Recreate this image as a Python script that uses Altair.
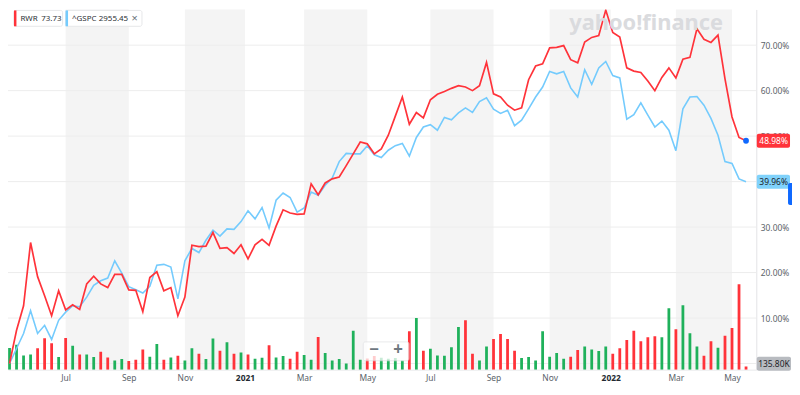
import altair as alt
import pandas as pd

# ---------------- data ----------------
START_DATE = "2020-05-11"   # first weekly point
N_WEEKS = 106

rwr_pct = [0, 7.3, 12.7, 26.6, 19.1, 14.9, 10.5, 16.0, 11.8, 12.9,
           11.9, 17.5, 19.2, 17.5, 16.7, 19.6, 19.6, 16.2, 16.1, 11.4,
           18.9, 20.2, 16.0, 16.7, 10.5, 14.6, 26.0, 25.7, 25.8, 28.8,
           25.3, 25.5, 24.2, 26.1, 23.0, 26.1, 27.3, 26.0, 30.2, 33.8,
           33.1, 32.8, 32.9, 39.5, 37.1, 39.7, 40.6, 41.0, 43.5, 46.1,
           48.7, 48.3, 46.1, 47.2, 50.2, 54.4, 58.6, 52.6, 55.2, 54.0,
           58.0, 59.2, 59.8, 60.5, 61.1, 60.8, 60.0, 61.1, 66.2, 59.3,
           58.6, 56.8, 55.7, 56.2, 62.4, 65.4, 65.9, 69.4, 69.5, 69.9,
           66.8, 66.1, 70.7, 71.7, 72.1, 77.7, 72.8, 71.8, 65.0, 64.3,
           64.0, 62.1, 60.0, 62.9, 65.0, 62.8, 66.9, 67.3, 73.6, 71.3,
           70.6, 72.2, 62.6, 54.2, 49.7, 48.98]

gspc_pct = [0, 3.3, 6.6, 11.6, 6.6, 8.4, 5.3, 9.5, 11.3, 12.7,
            12.5, 14.6, 17.2, 18.2, 18.8, 22.6, 19.9, 16.9, 16.2, 15.5,
            17.0, 21.6, 21.8, 21.2, 14.2, 22.6, 25.3, 24.4, 27.1, 29.3,
            28.0, 29.6, 29.5, 31.2, 33.6, 31.8, 34.3, 29.8, 35.9, 37.5,
            36.5, 33.3, 34.2, 37.7, 37.0, 39.2, 40.8, 44.4, 46.2, 46.1,
            46.1, 47.9, 45.9, 45.3, 46.9, 47.9, 48.4, 45.6, 49.7, 52.0,
            52.5, 51.3, 54.1, 53.6, 55.1, 56.2, 55.2, 57.6, 58.4, 55.9,
            55.0, 55.7, 52.3, 53.5, 56.0, 58.6, 60.8, 64.2, 63.7, 64.2,
            60.6, 58.6, 64.6, 61.4, 65.0, 66.4, 63.3, 62.8, 53.7, 54.7,
            57.3, 54.6, 52.0, 53.3, 51.3, 46.8, 56.0, 58.6, 58.7, 56.8,
            53.9, 50.2, 44.4, 44.0, 40.6, 39.96]

volume_k = [900, 1029, 588, 630, 893, 1304, 1099, 523, 1317, 988,
            630, 630, 523, 741, 506, 383, 440, 358, 412, 835,
            535, 1070, 412, 506, 576, 383, 893, 658, 440, 1288,
            782, 1140, 658, 712, 630, 453, 494, 1016, 506, 564,
            453, 741, 605, 412, 1358, 687, 383, 440, 259, 1617,
            412, 465, 564, 494, 453, 481, 383, 1593, 2140, 782,
            864, 588, 576, 934, 1769, 2045, 658, 383, 959, 1276,
            1481, 1276, 782, 481, 523, 383, 1593, 535, 687, 453,
            535, 811, 959, 835, 770, 959, 658, 893, 1235, 1617,
            1181, 1346, 1387, 1346, 2551, 1675, 2675, 1510, 959, 576,
            1181, 905, 1411, 1728, 3539, 135.8]

volume_dir = list("uuuudddudu" "duudduuddd" "uududuuduu" "dududuuduu"
                  "dduuduuuuu" "udduuuudud" "uuuuudduud" "ddduuuuuuu"
                  "dduuuudddd" "ddduuduuud" "dudddd")

tick_dates = ["2020-07-06", "2020-09-07", "2020-11-02", "2021-01-01",
              "2021-03-01", "2021-05-03", "2021-07-05", "2021-09-06",
              "2021-11-01", "2022-01-01", "2022-03-07", "2022-05-02"]
band_starts = ["2020-07-06", "2020-11-02", "2021-03-01", "2021-07-05", "2021-11-01", "2022-03-07"]
band_ends = ["2020-09-07", "2021-01-01", "2021-05-03", "2021-09-06", "2022-01-01", "2022-05-02"]
grid_values = [0, 10, 20, 30, 40, 50, 60, 70]
axis_values = [10, 20, 30, 40, 50, 60, 70]

legend_names = ["RWR", "^GSPC"]
legend_prices = ["73.73", "2955.45"]

# ---------------- styling / layout ----------------
RED = "#ff333a"
GREEN = "#1fb15b"
BLUE = "#74cbfd"
TAG_BLUE = "#80d2fb"
DOT_BLUE = "#0f69ff"
TXT = "#5b636a"
FONT = "Noto Sans"

W, H = 754, 363
PX_PER_DAY = 7.163 / 7.0
d0 = pd.Timestamp(START_DATE)


def ms(ts):
    return int(pd.Timestamp(ts).value // 10**6)


x_dom = [ms(d0 + pd.Timedelta(days=3.5 / PX_PER_DAY)),
         ms(d0 + pd.Timedelta(days=(W + 3.5) / PX_PER_DAY))]
x_scale = alt.Scale(type="utc", domain=x_dom, nice=False)
x_axis = alt.Axis(
    values=[ms(t) for t in tick_dates],
    labelExpr="utcmonth(datum.value) == 0 ? utcFormat(datum.value, '%Y') : utcFormat(datum.value, '%b')",
    labelFontWeight={"condition": {"test": "utcmonth(datum.value) == 0", "value": "bold"}, "value": "normal"},
    labelColor={"condition": {"test": "utcmonth(datum.value) == 0", "value": "#232a31"}, "value": TXT},
    labelFont=FONT, labelFontSize=8.5, labelPadding=4, ticks=False, grid=False,
    domain=True, domainColor="#e8e9eb", labelOverlap=False, title=None)

pct_scale = alt.Scale(domain=[-1.353, 77.85], nice=False, zero=False)
y_axis = alt.Axis(orient="right", values=axis_values,
                  labelExpr="format(datum.value, '.2f') + '%'",
                  labelFont=FONT, labelFontSize=8.5, labelColor=TXT, labelPadding=4,
                  ticks=False, grid=False, domain=True, domainColor="#e3e4e6", title=None)

vol_scale = alt.Scale(domain=[0, 14937], nice=False, zero=True)

dates = pd.date_range(START_DATE, periods=N_WEEKS, freq="7D").strftime("%Y-%m-%d")
df = pd.DataFrame({"date": dates, "rwr": rwr_pct, "gspc": gspc_pct,
                   "vol": volume_k, "dir": volume_dir})
bands = pd.DataFrame({"start": band_starts, "end": band_ends})
grid = pd.DataFrame({"g": grid_values})
one = pd.DataFrame({"k": [0]})

X = alt.X("date:T", scale=x_scale, axis=x_axis, title=None)

band_layer = alt.Chart(bands).mark_rect(color="#f4f4f4").encode(
    x=alt.X("start:T", scale=x_scale, axis=x_axis, title=None), x2="end:T",
    y=alt.value(0), y2=alt.value(H))
grid_layer = alt.Chart(grid).mark_rule(color="#ededed", strokeWidth=1).encode(
    y=alt.Y("g:Q", scale=pct_scale, axis=None))
back = alt.layer(band_layer, grid_layer)

vol_layer = alt.Chart(df).mark_bar(size=2.8, clip=True).encode(
    x=X,
    y=alt.Y("vol:Q", scale=vol_scale, axis=None),
    color=alt.Color("dir:N", scale=alt.Scale(domain=["u", "d"], range=[GREEN, RED]), legend=None))

line_blue = alt.Chart(df).mark_line(color=BLUE, strokeWidth=1.6, clip=True).encode(
    x=X, y=alt.Y("gspc:Q", scale=pct_scale, axis=y_axis))
line_red = alt.Chart(df).mark_line(color=RED, strokeWidth=1.7, clip=True).encode(
    x=X, y=alt.Y("rwr:Q", scale=pct_scale, axis=y_axis))
dot = alt.Chart(df.tail(1)).mark_circle(color=DOT_BLUE, opacity=1, size=34).encode(
    x=X, y=alt.Y("rwr:Q", scale=pct_scale, axis=y_axis))

tags = pd.DataFrame({
    "v": [rwr_pct[-1], gspc_pct[-1]],
    "label": [f"{rwr_pct[-1]:.2f}%", f"{gspc_pct[-1]:.2f}%"],
    "fill": [RED, TAG_BLUE],
    "tc": ["#ffffff", "#1d2228"],
})
tag_rect = alt.Chart(tags).transform_calculate(
    hi="datum.v + 1.55", lo="datum.v - 1.55"
).mark_rect(cornerRadius=2).encode(
    x=alt.value(W + 0.5), x2=alt.value(W + 34),
    y=alt.Y("hi:Q", scale=pct_scale, axis=y_axis), y2="lo:Q",
    fill=alt.Fill("fill:N", scale=None))
tag_text = alt.Chart(tags).mark_text(font=FONT, fontSize=8.5, align="center", baseline="middle").encode(
    x=alt.value(W + 17.5), y=alt.Y("v:Q", scale=pct_scale, axis=y_axis),
    text="label:N", color=alt.Color("tc:N", scale=None))

front = alt.layer(line_blue, line_red, dot, tag_rect, tag_text)


def box(x1, x2, y1, y2, fill, stroke=None, opacity=1.0, radius=0):
    kw = dict(fill=fill, opacity=opacity, cornerRadius=radius)
    if stroke:
        kw.update(stroke=stroke, strokeWidth=1)
    return alt.Chart(one).mark_rect(**kw).encode(
        x=alt.value(x1), x2=alt.value(x2), y=alt.value(y1), y2=alt.value(y2))


def label(txt, x, y, size=8, color="#2c3036", align="left", weight="normal"):
    return alt.Chart(one).mark_text(text=txt, font=FONT, fontSize=size, color=color,
                                    align=align, baseline="middle", fontWeight=weight).encode(
        x=alt.value(x), y=alt.value(y))


deco = [
    # watermark
    label("yahoo!finance", 643, 14, size=22, color="#dadbde", align="center", weight="bold"),
    # legend chips
    box(6, 55, 1, 17, "#ffffff", stroke="#e6e7e9", radius=2),
    box(6, 8.5, 1, 17, RED),
    label(legend_names[0], 12.5, 9.5),
    label(legend_prices[0], 33.5, 9.5),
    box(58, 135, 1, 17, "#ffffff", stroke="#e6e7e9", radius=2),
    box(58, 60.5, 1, 17, BLUE),
    label(legend_names[1], 64.5, 9.5),
    label(legend_prices[1], 91.5, 9.5),
    label("×", 127.5, 9.5, size=11, color="#6e7780", align="center"),
    # volume tag
    box(W + 0.5, W + 35, 350, 364, "#b8bbc0", radius=2),
    label(f"{volume_k[-1]:.2f}K", W + 17.8, 357, size=8.5, color="#1d2228", align="center"),
    # zoom control
    box(358, 404, 335, 354, "#ffffff", stroke="#e3e4e6", opacity=0.75, radius=2),
    label("−", 369, 343.5, size=17, color="#6e7780", align="center", weight="bold"),
    label("+", 393, 343.5, size=17, color="#6e7780", align="center", weight="bold"),
    # right edge tab
    box(786, 792, 175, 197, DOT_BLUE, radius=2),
]

chart = alt.layer(back, vol_layer, front, *deco).resolve_scale(
    y="independent"
).properties(
    width=W, height=H,
    padding={"left": 0, "top": 0, "right": 36, "bottom": 16},
    autosize=alt.AutoSizeParams(type="none"),
    background="#ffffff",
).configure_view(stroke=None)

chart.save("out.html", embed_options={"renderer": "svg", "actions": False})
